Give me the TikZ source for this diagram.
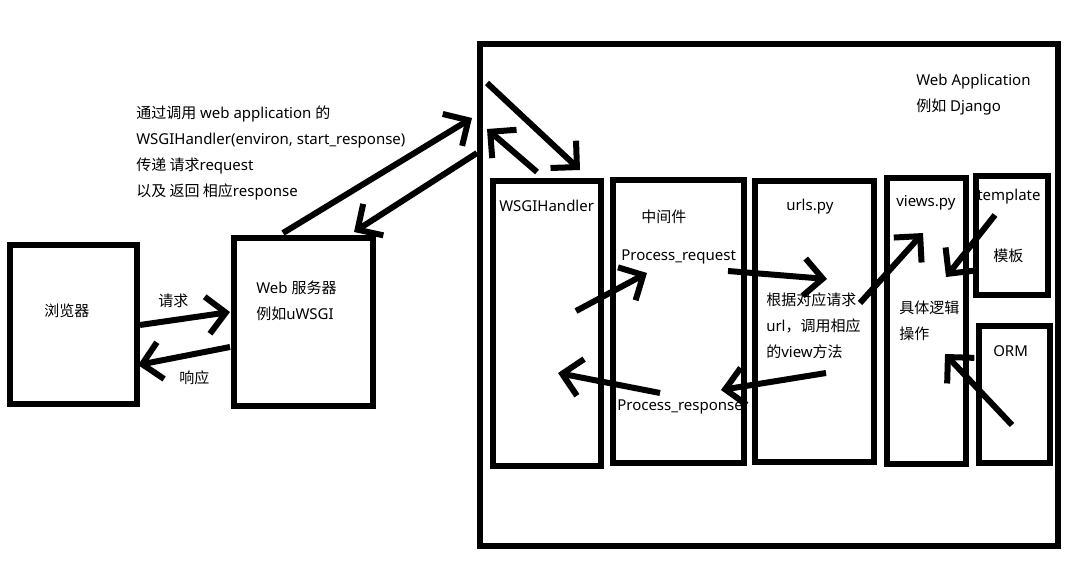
\documentclass[tikz,border=0pt]{standalone}
\usepackage{fontspec}
\setmainfont{Noto Sans}
\newfontfamily\cjk{Noto Sans CJK SC}
\usetikzlibrary{arrows.meta}
\usetikzlibrary{positioning}

\begin{document}
\begin{tikzpicture}[x=0.75pt,y=-0.75pt,
    every node/.style={inner sep=0pt,font=\fontsize{11.25pt}{19.5pt}\selectfont},
    box/.style={draw,line width=4.5pt},
    txt/.style={anchor=west,align=left},
    flow/.style={line width=4.5pt,-{Straight Barb[length=14pt,width=28pt]}}]
    \useasboundingbox (0,0) rectangle (1084,574);
    % boxes
    \node[box,minimum width=95.25pt,minimum height=119.25pt] (browser) at (73.5,324.5) {};
    \node[box,minimum width=104.25pt,minimum height=126pt] (server) at (303.5,322) {};
    \node[box,minimum width=433.5pt,minimum height=376.5pt] (app) at (769,295) {};
    \node[box,minimum width=81pt,minimum height=213.75pt] (wsgi) at (547,323.5) {};
    \node[box,minimum width=98.25pt,minimum height=212.25pt] (mw) at (678.5,321.5) {};
    \node[box,minimum width=89.25pt,minimum height=210.75pt] (urls) at (814.5,321.5) {};
    \node[box,minimum width=59.25pt,minimum height=214.5pt] (views) at (926.5,321) {};
    \node[box,minimum width=54pt,minimum height=89.25pt] (tpl) at (1012,235.5) {};
    \node[box,minimum width=53.25pt,minimum height=102.75pt] (orm) at (1014.5,394.5) {};
    % labels
    \node[txt] (browsertxt) at (44,311) {\cjk 浏览器};
    \node[txt] (reqtxt) at (158,301) {\cjk 请求};
    \node[txt] (resptxt) at (179,378) {\cjk 响应};
    \node[txt] (servertxt) at (256,300.5) {Web {\cjk 服务器}\\{\cjk 例如}uWSGI};
    \node[txt] (calltxt) at (136,152.5) {{\cjk 通过调用} web application {\cjk 的}\\
        WSGIHandler(environ, start\_response)\\
        {\cjk 传递 请求}request\\
        {\cjk 以及 返回 相应}response};
    \node[txt] (apptxt) at (916,95) {Web Application\\{\cjk 例如} Django};
    \node[txt] (wsgitxt) at (499,206) {WSGIHandler};
    \node[txt] (mwtxt) at (641,217) {\cjk 中间件};
    \node[txt] (preq) at (621,257) {Process\_request};
    \node[txt] (presp) at (617,407) {Process\_response};
    \node[txt] (urlstxt) at (786,207) {urls.py};
    \node[txt] (routetxt) at (766,326) {{\cjk 根据对应请求}\\url{\cjk ，调用相应}\\{\cjk 的}view{\cjk 方法}};
    \node[txt] (viewstxt) at (896,203) {views.py};
    \node[txt] (logictxt) at (899,321) {{\cjk 具体逻辑}\\{\cjk 操作}};
    \node[txt] (tpltxt) at (977,197) {template};
    \node[txt] (tplcn) at (993,256) {\cjk 模板};
    \node[txt] (ormtxt) at (993,351) {ORM};
    % arrows
    \coordinate (req1) at (140,325);   \coordinate (req2) at (230,312);
    \coordinate (resp1) at (230,347);  \coordinate (resp2) at (138,365);
    \coordinate (call1) at (283,233);  \coordinate (call2) at (472,118);
    \coordinate (ret1) at (477,153);   \coordinate (ret2) at (354,232);
    \coordinate (in1) at (487,83);     \coordinate (in2) at (580,170);
    \coordinate (out1) at (537,172);   \coordinate (out2) at (487,129);
    \coordinate (mwin1) at (576,311);  \coordinate (mwin2) at (647,273);
    \coordinate (route1) at (728,271); \coordinate (route2) at (827,279);
    \coordinate (view1) at (860,303);  \coordinate (view2) at (923,233);
    \coordinate (tpl1) at (995,215);   \coordinate (tpl2) at (946,277);
    \coordinate (orm1) at (1012,425);  \coordinate (orm2) at (945,354);
    \coordinate (back1) at (826,373);  \coordinate (back2) at (721,390);
    \coordinate (mwout1) at (660,393); \coordinate (mwout2) at (558,373);
    \draw[flow] (req1) -- (req2);
    \draw[flow] (resp1) -- (resp2);
    \draw[flow] (call1) -- (call2);
    \draw[flow] (ret1) -- (ret2);
    \draw[flow] (in1) -- (in2);
    \draw[flow] (out1) -- (out2);
    \draw[flow] (mwin1) -- (mwin2);
    \draw[flow] (route1) -- (route2);
    \draw[flow] (view1) -- (view2);
    \draw[flow] (tpl1) -- (tpl2);
    \draw[flow] (orm1) -- (orm2);
    \draw[flow] (back1) -- (back2);
    \draw[flow] (mwout1) -- (mwout2);
\end{tikzpicture}
\end{document}
